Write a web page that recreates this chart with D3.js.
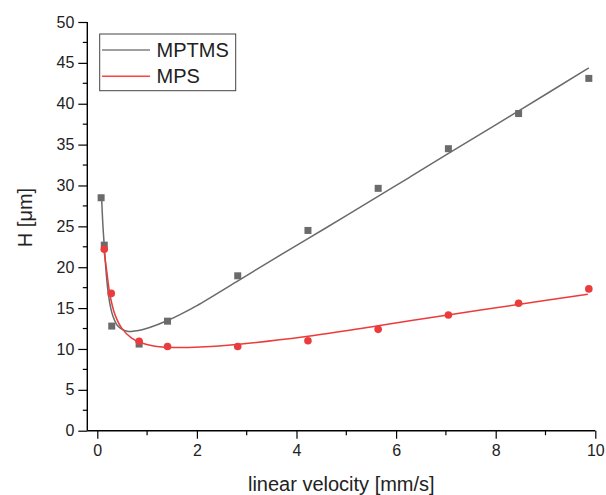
<!DOCTYPE html>
<html>
<head>
<meta charset="utf-8">
<script src="https://cdn.jsdelivr.net/npm/d3@7/dist/d3.min.js"></script>
<style>
  html, body { margin: 0; padding: 0; background: #fff; }
  svg { display: block; font-family: "Liberation Sans", Arial, sans-serif; }
</style>
</head>
<body>
<svg id="chart" width="606" height="495"></svg>
<script>
// ---- data ----
const seriesNames = ["MPTMS", "MPS"];

const mptmsX = [0.077, 0.14, 0.29, 0.84, 1.41, 2.82, 4.23, 5.64, 7.05, 8.46, 9.87];
const mptmsY = [28.5, 22.7, 12.8, 10.6, 13.4, 18.95, 24.5, 29.65, 34.5, 38.8, 43.1];

const mpsX = [0.14, 0.28, 0.84, 1.41, 2.82, 4.23, 5.64, 7.05, 8.46, 9.87];
const mpsY = [22.2, 16.8, 10.95, 10.3, 10.3, 11.0, 12.4, 14.15, 15.6, 17.35];

// fitted curves as drawn in the reference
const mptmsFitX = [0.085, 0.11, 0.14, 0.18, 0.22, 0.27, 0.32, 0.40, 0.50, 0.62, 0.75, 0.90, 1.05, 1.40, 1.66, 2.0, 2.8, 3.5, 4.23, 5.0, 5.67, 6.27, 7.06, 8.47, 9.87];
const mptmsFitY = [28.8, 25.4, 22.6, 19.2, 16.8, 15.0, 13.9, 12.9, 12.4, 12.15, 12.2, 12.35, 12.62, 13.45, 14.2, 15.3, 18.25, 20.85, 23.5, 26.3, 28.8, 31.0, 33.95, 39.15, 44.4];

const mpsFitX = [0.12, 0.19, 0.255, 0.355, 0.49, 0.69, 0.89, 1.16, 1.39, 1.66, 1.96, 2.8, 4.23, 5.64, 7.04, 8.45, 9.85];
const mpsFitY = [22.7, 19.5, 16.6, 14.2, 12.55, 11.33, 10.72, 10.32, 10.21, 10.18, 10.21, 10.55, 11.55, 12.85, 14.15, 15.45, 16.7];

const xTicks = [0, 2, 4, 6, 8, 10];
const xMinorTicks = [1, 3, 5, 7, 9];
const yTicks = [0, 5, 10, 15, 20, 25, 30, 35, 40, 45, 50];
const yMinorTicks = [2.5, 7.5, 12.5, 17.5, 22.5, 27.5, 32.5, 37.5, 42.5, 47.5];

const xTitle = "linear velocity [mm/s]";
const yTitle = "H [μm]";

// ---- layout ----
const svg = d3.select("#chart");
const axisLeftX = 87.3;
const x = d3.scaleLinear().domain([0, 10]).range([97.3, 595.3]);
const y = d3.scaleLinear().domain([0, 50]).range([430.7, 22]);

const grayLine = "#6a6a6a";
const grayMark = "#6b6b6b";
const redLine = "#ec3b3b";
const redMark = "#ea3c3c";

// curves
const lineGen = d3.line().x(d => x(d[0])).y(d => y(d[1])).curve(d3.curveCatmullRom.alpha(0.5));
const g = svg.append("g");
g.append("path")
  .datum(d3.zip(mptmsFitX, mptmsFitY))
  .attr("d", lineGen).attr("fill", "none").attr("stroke", grayLine).attr("stroke-width", 1.5);
g.append("path")
  .datum(d3.zip(mpsFitX, mpsFitY))
  .attr("d", lineGen).attr("fill", "none").attr("stroke", redLine).attr("stroke-width", 1.5);

// markers
const sq = 7;
g.selectAll("rect.m").data(d3.zip(mptmsX, mptmsY)).join("rect")
  .attr("class", "m")
  .attr("x", d => x(d[0]) - sq / 2).attr("y", d => y(d[1]) - sq / 2)
  .attr("width", sq).attr("height", sq).attr("fill", grayMark);
g.selectAll("circle.p").data(d3.zip(mpsX, mpsY)).join("circle")
  .attr("class", "p")
  .attr("cx", d => x(d[0])).attr("cy", d => y(d[1])).attr("r", 3.8)
  .attr("fill", redMark);

// axes
const xAxisG = svg.append("g").attr("transform", `translate(0,${y(0)})`);
xAxisG.call(d3.axisBottom(x).tickValues(xTicks).tickSize(8).tickPadding(6).tickFormat(d3.format("d")));
xAxisG.selectAll(".tick line").attr("stroke", "#000").attr("stroke-width", 1.2);
xAxisG.select(".domain").remove();
xAxisG.append("line").attr("x1", axisLeftX).attr("x2", x(10)).attr("y1", 0).attr("y2", 0)
  .attr("stroke", "#000").attr("stroke-width", 1.4);
xAxisG.selectAll(".minor").data(xMinorTicks).join("line")
  .attr("class", "minor").attr("x1", d => x(d)).attr("x2", d => x(d)).attr("y1", 0).attr("y2", 4.5)
  .attr("stroke", "#000").attr("stroke-width", 1.2);
xAxisG.selectAll(".tick text").attr("font-size", 16).attr("fill", "#222")
  .attr("font-family", "Liberation Sans, Arial, sans-serif");

const yAxisG = svg.append("g").attr("transform", `translate(${axisLeftX},0)`);
yAxisG.call(d3.axisLeft(y).tickValues(yTicks).tickSize(9).tickPadding(4).tickFormat(d3.format("d")));
yAxisG.selectAll(".tick line").attr("stroke", "#000").attr("stroke-width", 1.2);
yAxisG.select(".domain").remove();
yAxisG.append("line").attr("x1", 0).attr("x2", 0).attr("y1", y(0)).attr("y2", y(50))
  .attr("stroke", "#000").attr("stroke-width", 1.4);
yAxisG.selectAll(".minor").data(yMinorTicks).join("line")
  .attr("class", "minor").attr("y1", d => y(d)).attr("y2", d => y(d)).attr("x1", 0).attr("x2", -4.5)
  .attr("stroke", "#000").attr("stroke-width", 1.2);
yAxisG.selectAll(".tick text").attr("font-size", 16).attr("fill", "#222")
  .attr("font-family", "Liberation Sans, Arial, sans-serif");

// titles
svg.append("text").attr("x", (axisLeftX + x(10)) / 2).attr("y", 491)
  .attr("text-anchor", "middle").attr("font-size", 20).attr("fill", "#222").text(xTitle);
svg.append("text").attr("transform", `translate(31.5,217.5) rotate(-90)`)
  .attr("text-anchor", "middle").attr("font-size", 20).attr("fill", "#222").text(yTitle);

// legend
const leg = svg.append("g");
leg.append("rect").attr("x", 99.7).attr("y", 34).attr("width", 136).attr("height", 56.7)
  .attr("fill", "#fff").attr("stroke", "#444").attr("stroke-width", 1);
const legColors = ["#808080", "#ff4040"];
const legY = [50, 76.3];
seriesNames.forEach((name, i) => {
  leg.append("line").attr("x1", 102).attr("x2", 150).attr("y1", legY[i]).attr("y2", legY[i])
    .attr("stroke", legColors[i]).attr("stroke-width", 1.5);
  leg.append("text").attr("x", 156.5).attr("y", legY[i] + 7).attr("font-size", 20)
    .attr("fill", "#222").text(name);
});
</script>
</body>
</html>
